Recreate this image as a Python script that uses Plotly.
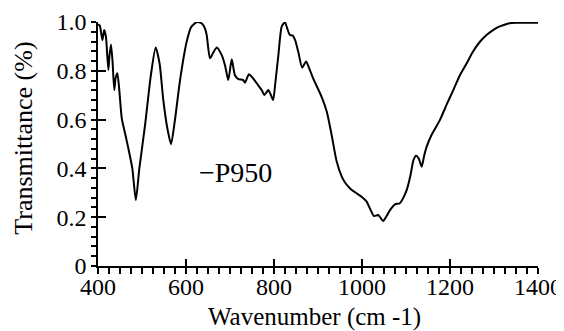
import plotly.graph_objects as go

wavenumber = [400, 404, 410, 414, 418, 423.5, 426, 429.5, 433, 437, 440, 444, 448, 454, 462, 469, 478, 486,
              494, 507, 520, 531, 540, 548, 557, 566, 575, 586, 601.5, 612, 624, 632, 638, 643, 647, 654.5,
              662, 670, 681, 689, 696, 704, 711, 719, 730, 734, 743, 752, 760.6, 772, 778, 783, 787, 792, 798,
              803, 810, 817.5, 825, 830, 836, 842, 848, 855, 864, 873, 880, 889, 908, 920, 931, 942.5, 954,
              963, 973, 986, 999, 1010.6, 1018, 1027, 1033, 1037, 1042, 1048, 1056, 1064, 1075, 1086, 1094,
              1101.5, 1110, 1117, 1123, 1129, 1135.7, 1141, 1147, 1158, 1177, 1192, 1207.5, 1222, 1238, 1252,
              1268, 1283, 1298, 1313, 1329, 1340, 1351.5, 1375, 1400]
transmittance = [0.99, 0.985, 0.926, 0.967, 0.94, 0.803, 0.86, 0.908, 0.84, 0.721, 0.77, 0.79, 0.73, 0.605, 0.54, 0.482, 0.40, 0.270,
                 0.40, 0.578, 0.78, 0.896, 0.83, 0.687, 0.57, 0.499, 0.60, 0.756, 0.919, 0.98, 0.999, 0.998, 0.99, 0.974, 0.947, 0.851,
                 0.875, 0.896, 0.865, 0.82, 0.762, 0.847, 0.783, 0.766, 0.762, 0.751, 0.786, 0.77, 0.749, 0.721, 0.701, 0.712, 0.721, 0.705, 0.680,
                 0.75, 0.865, 0.981, 0.999, 0.974, 0.947, 0.945, 0.926, 0.879, 0.813, 0.838, 0.81, 0.769, 0.694, 0.632, 0.537, 0.428, 0.366,
                 0.338, 0.318, 0.30, 0.284, 0.264, 0.236, 0.205, 0.207, 0.209, 0.198, 0.184, 0.205, 0.230, 0.253, 0.257, 0.28,
                 0.311, 0.37, 0.434, 0.452, 0.44, 0.407, 0.45, 0.489, 0.537, 0.598, 0.66, 0.721, 0.78, 0.831, 0.878,
                 0.919, 0.947, 0.967, 0.982, 0.992, 0.996, 0.997, 0.997, 0.997]

x_ticks = [400, 600, 800, 1000, 1200, 1400]
y_ticks = [0, 0.2, 0.4, 0.6, 0.8, 1.0]
y_tick_labels = ["0", "0.2", "0.4", "0.6", "0.8", "1.0"]
series_name = "P950"
x_title = "Wavenumber (cm -1)"
y_title = "Transmittance (%)"

FONT = "Liberation Serif"

fig = go.Figure()
fig.add_trace(go.Scatter(x=wavenumber, y=transmittance, mode="lines", name=series_name,
                         line=dict(color="black", width=2, shape="spline", smoothing=0.6),
                         showlegend=False, cliponaxis=False))
# helper trace for the inner (crossing) major ticks
fig.add_trace(go.Scatter(x=wavenumber, y=transmittance, mode="lines", xaxis="x2", yaxis="y2",
                         line=dict(color="rgba(0,0,0,0)", width=0), showlegend=False, hoverinfo="skip"))

xr = [400, 1400]
yr = [0, 1.0]
# page body has an 8px default margin, so the figure is sized/offset to compensate
fig.update_layout(
    width=556, height=323,
    margin=dict(l=90, r=26, t=14, b=65, autoexpand=False),
    paper_bgcolor="white", plot_bgcolor="white",
    font=dict(family=FONT, color="black", size=24),
    xaxis=dict(range=xr, tickvals=x_ticks, ticks="outside", ticklen=6, tickwidth=1.5, tickcolor="black",
               showline=True, linecolor="black", linewidth=1.5, showgrid=False, zeroline=False, automargin=False,
               ticklabelstandoff=-8,
               minor=dict(dtick=25, ticks="outside", ticklen=6, tickwidth=1.5, tickcolor="black", showgrid=False),
               tickfont=dict(size=24, family=FONT, color="black")),
    yaxis=dict(range=yr, tickvals=y_ticks, ticktext=y_tick_labels, ticks="outside", ticklen=5, tickwidth=1.5,
               tickcolor="black", showline=True, linecolor="black", linewidth=1.5, showgrid=False, zeroline=False,
               automargin=False,
               minor=dict(dtick=0.04, ticks="outside", ticklen=5, tickwidth=1.5, tickcolor="black", showgrid=False),
               tickfont=dict(size=24, family=FONT, color="black")),
    xaxis2=dict(range=xr, overlaying="x", anchor="y2", side="bottom", tickvals=x_ticks, ticks="inside", ticklen=7,
                tickwidth=1.5, tickcolor="black", showticklabels=False, showgrid=False, zeroline=False, showline=False),
    yaxis2=dict(range=yr, overlaying="y", anchor="x2", side="left", tickvals=y_ticks, ticks="inside", ticklen=8,
                tickwidth=1.5, tickcolor="black", showticklabels=False, showgrid=False, zeroline=False, showline=False),
    annotations=[
        dict(x=626, y=0.385, xref="x", yref="y", text="\u2212" + series_name, showarrow=False,
             xanchor="left", yanchor="middle", font=dict(size=28, family=FONT, color="black")),
        dict(x=0.492, y=-0.21, xref="paper", yref="paper", text=x_title, showarrow=False,
             xanchor="center", yanchor="middle", font=dict(size=25, family=FONT, color="black")),
        dict(x=-0.170, y=0.5225, xref="paper", yref="paper", text=y_title, showarrow=False, textangle=-90,
             xanchor="center", yanchor="middle", font=dict(size=26, family=FONT, color="black")),
    ],
)

fig.write_html("out.html")
